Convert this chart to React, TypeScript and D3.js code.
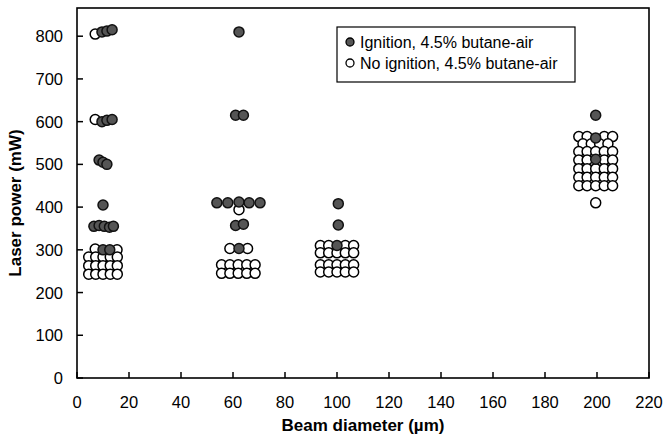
import React from "react";
import * as d3 from "d3";

// [beam diameter (µm), laser power (mW)]
const ignition: [number, number][] = [
  [9.6, 810], [11.5, 812], [13.5, 815],
  [9.6, 600], [11.5, 603], [13.5, 605],
  [8.5, 510], [10, 505], [11.5, 500],
  [10, 405],
  [6.5, 355], [8.5, 357], [10.5, 355], [12.5, 353], [14, 355],
  [10, 300], [12.6, 300],
  [62.3, 810],
  [61, 615], [64, 615],
  [53.8, 410], [58, 410], [62.3, 412], [66.2, 410], [70.4, 410],
  [61, 357], [64, 360],
  [62.3, 303],
  [100.5, 408], [100.5, 358], [100, 310],
  [199.5, 615], [199.5, 562], [199.5, 512],
];

const noIgnition: [number, number][] = [
  [7, 805], [7, 605],
  [7, 302], [15.4, 300],
  [4.5, 283], [7.2, 283], [10, 283], [12.8, 283], [15.5, 283],
  [4.5, 263], [7.2, 263], [10, 263], [12.8, 263], [15.5, 263],
  [4.5, 243], [7.2, 243], [10, 243], [12.8, 243], [15.5, 243],
  [62.3, 394],
  [58.8, 303], [65.6, 303],
  [55.6, 265], [58.8, 265], [62, 265], [65.3, 265], [68.5, 265],
  [55.6, 245], [58.8, 245], [62, 245], [65.3, 245], [68.5, 245],
  [93.6, 310], [96.8, 310], [103.2, 310], [106.4, 310],
  [93.6, 293], [96.8, 293], [100, 293], [103.2, 293], [106.4, 293],
  [93.6, 265], [96.8, 265], [100, 265], [103.2, 265], [106.4, 265],
  [93.6, 248], [96.8, 248], [100, 248], [103.2, 248], [106.4, 248],
  [193, 565], [196.2, 565], [202.8, 565], [206, 565],
  [194.6, 548], [197.8, 548], [201, 548], [204.2, 548],
  [193, 530], [196.2, 530], [199.5, 530], [202.8, 530], [206, 530],
  [193, 510], [196.2, 510], [202.8, 510], [206, 510],
  [193, 490], [196.2, 490], [199.5, 490], [202.8, 490], [206, 490],
  [193, 470], [196.2, 470], [199.5, 470], [202.8, 470], [206, 470],
  [193, 450], [196.2, 450], [199.5, 450], [202.8, 450], [206, 450],
  [199.5, 410],
];

const xTicks = [0, 20, 40, 60, 80, 100, 120, 140, 160, 180, 200, 220];
const yTicks = [0, 100, 200, 300, 400, 500, 600, 700, 800];
const legendLabels = ["Ignition, 4.5% butane-air", "No ignition, 4.5% butane-air"];

export default function App() {
  const width = 666;
  const height = 436;
  const left = 77;
  const right = 649;
  const top = 8;
  const bottom = 378;
  const font = "'Liberation Sans', Arial, sans-serif";

  const x = d3.scaleLinear().domain([0, 220]).range([left, right]);
  const y = d3.scaleLinear().domain([0, 866]).range([bottom, top]);
  const r = 5;

  return (
    <svg width={width} height={height} style={{ position: "absolute", left: 0, top: 0 }}>
      <rect width={width} height={height} fill="#fff" />
      {/* frame */}
      <rect x={left} y={top} width={right - left} height={bottom - top} fill="none" stroke="#000" strokeWidth={1.6} />

      {yTicks.map((t) => (
        <g key={"y" + t}>
          <line x1={left} x2={left + 6} y1={y(t)} y2={y(t)} stroke="#000" strokeWidth={1.5} />
          <text x={left - 14} y={y(t) + 6} textAnchor="end" fontSize={16.5} fontFamily={font}>
            {t}
          </text>
        </g>
      ))}
      {xTicks.map((t) => (
        <g key={"x" + t}>
          <line x1={x(t)} x2={x(t)} y1={bottom} y2={bottom - 6} stroke="#000" strokeWidth={1.5} />
          <text x={x(t)} y={bottom + 30} textAnchor="middle" fontSize={16.5} fontFamily={font}>
            {t}
          </text>
        </g>
      ))}

      <text x={(left + right) / 2} y={431} textAnchor="middle" fontSize={17} fontWeight="bold" fontFamily={font}>
        Beam diameter (µm)
      </text>
      <text
        transform={`translate(21,${(top + bottom) / 2 + 10}) rotate(-90)`}
        textAnchor="middle"
        fontSize={17}
        fontWeight="bold"
        fontFamily={font}
      >
        Laser power (mW)
      </text>

      {noIgnition.map((d, i) => (
        <circle key={"n" + i} cx={x(d[0])} cy={y(d[1])} r={r} fill="#fff" stroke="#000" strokeWidth={1.5} />
      ))}
      {ignition.map((d, i) => (
        <circle key={"i" + i} cx={x(d[0])} cy={y(d[1])} r={r} fill="#555" stroke="#111" strokeWidth={1.5} />
      ))}

      {/* legend */}
      <rect x={337} y={27} width={238} height={55} fill="#fff" stroke="#000" strokeWidth={1.2} />
      {legendLabels.map((l, i) => (
        <g key={l}>
          <circle
            cx={350}
            cy={42 + i * 21}
            r={4}
            fill={i === 0 ? "#555" : "#fff"}
            stroke="#000"
            strokeWidth={1.3}
          />
          <text x={360} y={48 + i * 21} fontSize={16} fontFamily={font}>
            {l}
          </text>
        </g>
      ))}
    </svg>
  );
}
